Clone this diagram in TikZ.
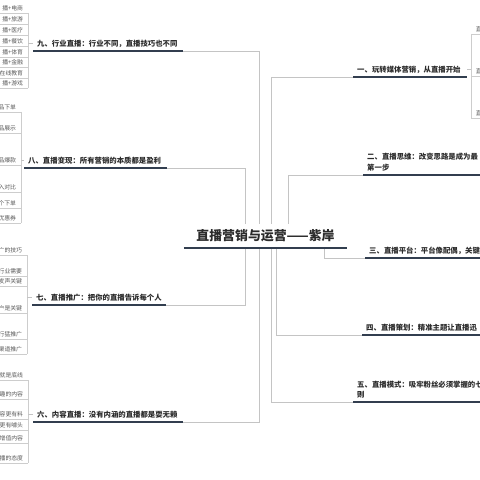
\documentclass[tikz,border=0pt]{standalone}
\usepackage{fontspec}
\setmainfont{Noto Sans CJK SC}
\usepackage{tikz}
\usetikzlibrary{positioning}
\definecolor{ink}{HTML}{2B2B2B}
\definecolor{navy}{HTML}{323E4F}
\definecolor{wiregray}{HTML}{C4C4C4}
\definecolor{leafink}{HTML}{595959}
\definecolor{leafrule}{HTML}{CDCDCD}
\newcommand\rootfont{\fontsize{11}{13}\selectfont\bfseries}
\newcommand\branchfont{\fontsize{6.3}{9}\selectfont\bfseries}
\newcommand\leaffont{\fontsize{5}{6}\selectfont}

\begin{document}
\begin{tikzpicture}[
    x=0.03cm, y=-0.03cm,
    root/.style={
      rectangle, fill=white, text=ink,
      font=\rootfont, minimum width=4.89cm,
      inner ysep=5pt, anchor=south
    },
    branch/.style={
      rectangle, text=ink, font=\branchfont,
      inner xsep=0.12cm, inner ysep=3pt,
      align=left, anchor=south west
    },
    leaf/.style={
      rectangle, anchor=south east, text=leafink,
      font=\leaffont, text width=1.5cm, align=right,
      inner xsep=0.14cm, inner ysep=1.4pt
    },
    rleaf/.style={leaf, anchor=south west, align=left},
    uline/.style={draw=navy, line width=1.2pt},
    rootline/.style={draw=navy, line width=1.6pt},
    link/.style={draw=wiregray, line width=0.7pt},
    leafline/.style={draw=leafrule, line width=0.5pt}
  ]

    \useasboundingbox (0,0) rectangle (480,480);
    \clip (0,0) rectangle (480,480);

    % ── LEFT BRANCHES ────────────────────────────────────────────────────
    \node[branch, text width=4.26cm] (ind)   at (33,51)  {九、行业直播：行业不同，直播技巧也不同};
    \node[branch, text width=4.05cm] (cash)  at (24,168) {八、直播变现：所有营销的本质都是盈利};
    \node[branch, text width=3.78cm] (promo) at (32,305) {七、直播推广：把你的直播告诉每个人};
    \node[branch, text width=4.26cm] (cont)  at (33,422) {六、内容直播：没有内涵的直播都是耍无赖};

    % ── RIGHT BRANCHES ───────────────────────────────────────────────────
    \node[branch, text width=3.18cm] (media) at (353,77)  {一、玩转媒体营销，从直播开始};
    \node[branch, text width=6cm]    (mind)  at (363,175) {二、直播思维：改变思路是成为最\\第一步};
    \node[branch, text width=6cm]    (plat)  at (365,258) {三、直播平台：平台像配偶，关键};
    \node[branch, text width=6cm]    (plan)  at (362,335) {四、直播策划：精准主题让直播迅};
    \node[branch, text width=6cm]    (mode)  at (353,402) {五、直播模式：吸牢粉丝必须掌握的七\\则};

    \foreach \n in {ind, cash, promo, cont, media, mind, plat, plan, mode}
      \draw[uline] (\n.south west) -- (\n.south east);

    % ── LEAVES ───────────────────────────────────────────────────────────
    \foreach \y/\t [count=\i] in {13/播+电商, 24/播+旅游, 35/播+医疗, 46/播+餐饮,
        57/播+体育, 67/播+金融, 78/在线教育, 88/播+游戏} {
      \node[leaf] (ind-\i) at (28,\y) {\t};
      \draw[leafline] (ind-\i.south west) -- (ind-\i.south east);
    }
    \foreach \y/\t [count=\i] in {112/品下单, 133/品展示, 165/品爆款,
        192/入对比, 208/个下单, 223/优惠券} {
      \node[leaf] (cash-\i) at (21,\y) {\t};
      \draw[leafline] (cash-\i.south west) -- (cash-\i.south east);
    }
    \foreach \y/\t [count=\i] in {255/广的技巧, 276/行业需要, 286/发声关键,
        313/户是关键, 339/行猛推广, 354/渠道推广} {
      \node[leaf] (promo-\i) at (27,\y) {\t};
      \draw[leafline] (promo-\i.south west) -- (promo-\i.south east);
    }
    \foreach \y/\t [count=\i] in {380/就是底线, 399/趣的内容, 419/容更有料,
        430/更有噱头, 443/增值内容, 463/播的态度} {
      \node[leaf] (cont-\i) at (28,\y) {\t};
      \draw[leafline] (cont-\i.south west) -- (cont-\i.south east);
    }
    \foreach \y [count=\i] in {34, 76, 118} {
      \node[rleaf] (media-\i) at (471,\y) {直};
      \draw[leafline] (media-\i.south west) -- (media-\i.south east);
    }

    % brackets
    \draw[leafline] (ind-1.south east)   -- (ind-8.south east);
    \draw[leafline] (cash-1.south east)  -- (cash-6.south east);
    \draw[leafline] (promo-1.south east) -- (promo-6.south east);
    \draw[leafline] (cont-1.south east)  -- (cont-6.south east);
    \draw[leafline] (media-1.south west) -- (media-3.south west);

    % bracket → branch
    \draw[link] (ind.west)   -- (ind.west -| ind-1.south east);
    \draw[link] (cash.west)  -- (cash.west -| cash-1.south east);
    \draw[link] (promo.west) -- (promo.west -| promo-1.south east);
    \draw[link] (cont.west)  -- (cont.west -| cont-1.south east);
    \draw[link] (media.east) -- (media.east -| media-1.south west);

    % ── Connectors to the root ───────────────────────────────────────────
    \coordinate (hubA) at (259,240); % 九, 六
    \coordinate (hubB) at (245,240); % 八, 七
    \coordinate (hubC) at (271,240); % 一, 五
    \coordinate (hubD) at (276,240); % 四
    \coordinate (hubE) at (288,240); % 二
    \coordinate (hubF) at (324,249); % 三

    \draw[link] (ind.south east)   -| (hubA);
    \draw[link] (cont.south east)  -| (hubA);
    \draw[link] (cash.south east)  -| (hubB);
    \draw[link] (promo.south east) -| (hubB);
    \draw[link] (hubC) |- (media.south west);
    \draw[link] (hubC) |- (mode.south west);
    \draw[link] (hubD) |- (plan.south west);
    \draw[link] (hubE) |- (mind.south west);
    \draw[link] (hubF) |- (plat.south west);

    % ── ROOT ─────────────────────────────────────────────────────────────
    \node[root] (root) at (265.5,248) {直播营销与运营——紫岸};
    \draw[rootline] (root.south west) -- (root.south east);

  \end{tikzpicture}
\end{document}
